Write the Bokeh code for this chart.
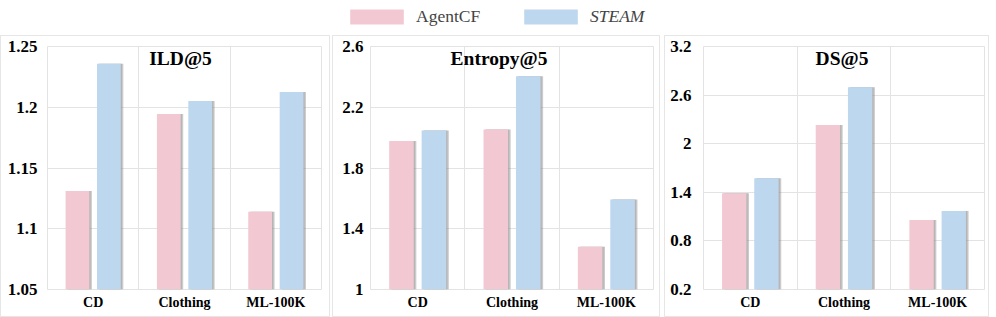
import numpy as np
from bokeh.plotting import figure
from bokeh.layouts import column, row
from bokeh.models import (Range1d, FixedTicker, Label, Legend, LegendItem, Spacer,
                          ColumnDataSource)
from bokeh.embed import file_html
from bokeh.resources import INLINE

# ---------------- data ----------------
categories = ["CD", "Clothing", "ML-100K"]
series_names = ["AgentCF", "STEAM"]

ild_agentcf = [1.131, 1.1945, 1.114]
ild_steam = [1.2357, 1.2052, 1.2126]
ild_ticks = [1.05, 1.1, 1.15, 1.2, 1.25]
ild_tick_labels = ["1.05", "1.1", "1.15", "1.2", "1.25"]

ent_agentcf = [1.977, 2.054, 1.282]
ent_steam = [2.047, 2.404, 1.593]
ent_ticks = [1.0, 1.4, 1.8, 2.2, 2.6]
ent_tick_labels = ["1", "1.4", "1.8", "2.2", "2.6"]

ds_agentcf = [1.388, 2.232, 1.058]
ds_steam = [1.573, 2.698, 1.169]
ds_ticks = [0.2, 0.8, 1.4, 2.0, 2.6, 3.2]
ds_tick_labels = ["0.2", "0.8", "1.4", "2", "2.6", "3.2"]

titles = ["ILD@5", "Entropy@5", "DS@5"]

# ---------------- style ----------------
PINK = "#F2C9D3"
BLUE = "#BDD7EE"
SHADOW = "#8c8c8c"
GRID = "#E3E3E3"
SERIF = "'Liberation Serif', 'Times New Roman', serif"
BAR_W = 0.26
OFF = 0.172


def panel(title, a_vals, s_vals, ticks, tick_labels, width, left, right,
          standoff, title_dx):
    n = len(categories)
    p = figure(width=width, height=282, output_backend="svg", toolbar_location=None,
               x_range=Range1d(0, n), y_range=Range1d(ticks[0], ticks[-1]),
               min_border_left=left, min_border_right=right,
               min_border_top=10, min_border_bottom=29)
    xs = np.arange(n) + 0.5
    for vals, off, col in ((a_vals, -OFF, PINK), (s_vals, OFF, BLUE)):
        p.vbar(x=xs + off + 0.028, top=vals, bottom=ticks[0], width=BAR_W,
               fill_color=SHADOW, fill_alpha=0.45, line_color=None)
        p.vbar(x=xs + off + 0.014, top=vals, bottom=ticks[0], width=BAR_W,
               fill_color=SHADOW, fill_alpha=0.35, line_color=None)
        p.vbar(x=xs + off, top=vals, bottom=ticks[0], width=BAR_W,
               fill_color=col, line_color=None)
    # axes
    p.xaxis.ticker = FixedTicker(ticks=list(xs))
    p.xaxis.major_label_overrides = {float(x): c for x, c in zip(xs, categories)}
    p.yaxis.ticker = FixedTicker(ticks=ticks)
    p.yaxis.major_label_overrides = dict(zip(ticks, tick_labels))
    for ax in (p.xaxis[0], p.yaxis[0]):
        ax.axis_line_color = None
        ax.major_tick_line_color = None
        ax.minor_tick_line_color = None
        ax.major_tick_out = 0
        ax.major_tick_in = 0
        ax.minor_tick_out = 0
        ax.minor_tick_in = 0
        ax.major_label_text_font = SERIF
        ax.major_label_text_font_style = "bold"
        ax.major_label_text_color = "black"
    p.xaxis.major_label_text_font_size = "14px"
    p.xaxis.major_label_standoff = 5
    p.yaxis.major_label_text_font_size = "17px"
    p.yaxis.major_label_standoff = standoff
    # grid
    p.xgrid.ticker = FixedTicker(ticks=list(range(n + 1)))
    p.xgrid.grid_line_color = GRID
    p.ygrid.grid_line_color = GRID
    p.outline_line_color = GRID
    # title inside plot area
    p.add_layout(Label(x=n / 2, y=ticks[-1], text=title, text_font=SERIF,
                       text_font_style="bold", text_font_size="19.5px",
                       text_align="center", text_baseline="top",
                       x_offset=title_dx, y_offset=-1, text_color="black"))
    p.styles = {"border": "1px solid #E6E6E6", "box-sizing": "border-box"}
    return p


p1 = panel(titles[0], ild_agentcf, ild_steam, ild_ticks, ild_tick_labels, 330, 46, 10, 10, -4)
p2 = panel(titles[1], ent_agentcf, ent_steam, ent_ticks, ent_tick_labels, 328, 37, 8, 7, -13)
p3 = panel(titles[2], ds_agentcf, ds_steam, ds_ticks, ds_tick_labels, 325, 38, 6, 12, -2)

# ---------------- legend strip ----------------
lg = figure(width=989, height=35, output_backend="svg", toolbar_location=None,
            x_range=Range1d(0, 1), y_range=Range1d(0, 1),
            min_border=0, x_axis_location=None, y_axis_location=None)
lg.grid.visible = False
lg.outline_line_color = None
dummy = ColumnDataSource(data=dict(x=[0.0], top=[np.nan]))
ra = lg.vbar(x="x", top="top", width=0.1, source=dummy, fill_color=PINK, line_color=None)
rb = lg.vbar(x="x", top="top", width=0.1, source=dummy, fill_color=BLUE, line_color=None)
for rend, name, style, loc in ((ra, series_names[0], "normal", (343, 8)),
                               (rb, series_names[1], "italic", (517, 8))):
    leg = Legend(items=[LegendItem(label=name, renderers=[rend])], location=loc,
                 glyph_width=67, glyph_height=19, label_standoff=6,
                 label_text_font=SERIF, label_text_font_size="17.5px",
                 label_text_font_style=style, label_height=19,
                 padding=0, margin=0, border_line_color=None,
                 background_fill_alpha=0)
    lg.add_layout(leg, "center")

layout = column(lg, row(p1, Spacer(width=2), p2, Spacer(width=4), p3, spacing=0), spacing=0)

open("out.html", "w").write(file_html(layout, INLINE))
